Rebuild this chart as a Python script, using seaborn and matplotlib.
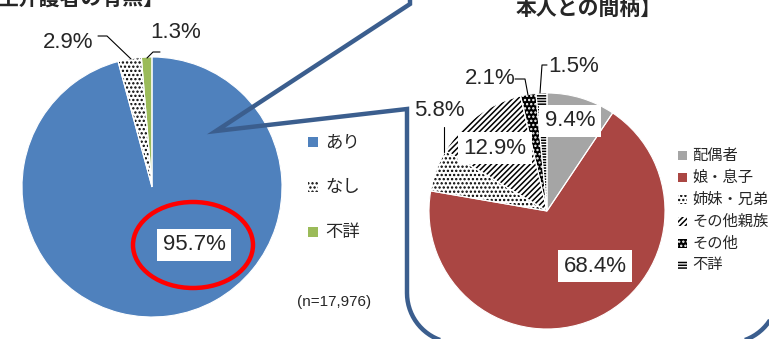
import numpy as np
import matplotlib
matplotlib.use("Agg")
import matplotlib.pyplot as plt
import seaborn as sns
from matplotlib.patches import Ellipse, Rectangle, PathPatch
from matplotlib.path import Path

# 主介護者の有無
care_labels = ["あり", "なし", "不詳"]
care_values = [95.7, 2.9, 1.3]
care_n = 17976

# 主介護者と本人との間柄
rel_labels = ["配偶者", "娘・息子", "姉妹・兄弟", "その他親族", "その他", "不詳"]
rel_values = [9.4, 68.4, 5.8, 12.9, 2.1, 1.5]

sns.set_theme(style="white")
plt.rcParams["font.family"] = ["Liberation Sans", "Noto Sans CJK JP"]
plt.rcParams["hatch.linewidth"] = 1.1
JP = ["Noto Sans CJK JP", "DejaVu Sans"]

W, H = 769, 339
fig = plt.figure(figsize=(W / 100, H / 100), dpi=100)
ax = fig.add_axes([0, 0, 1, 1])


def Y(y):
    return H - y


# wedge styles: face colour, hatch, hatch colour
care_styles = [
    ("#4F81BD", None, "#4F81BD"),
    ("white", "....", "black"),
    ("#9BBB59", None, "#9BBB59"),
]
rel_styles = [
    ("#A5A5A5", None, "#A5A5A5"),
    ("#AA4643", None, "#AA4643"),
    ("white", "....", "black"),
    ("white", "//////", "black"),
    ("black", "....", "white"),
    ("white", "------", "black"),
]


def draw_pie(values, styles, cx, cy, r):
    wedges, _ = ax.pie(values, center=(cx, Y(cy)), radius=r, startangle=90,
                       counterclock=False, wedgeprops=dict(linewidth=0))
    for w, (fc, hatch, hc) in zip(wedges, styles):
        w.set_facecolor(fc)
        w.set_edgecolor(hc)
        w.set_linewidth(0)
        w.set_hatch(hatch)
    ax.pie(values, center=(cx, Y(cy)), radius=r, startangle=90,
           counterclock=False,
           wedgeprops=dict(facecolor="none", edgecolor="white", linewidth=0.8))


def legend_box(x, yc, size, style):
    fc, hatch, hc = style
    ax.add_patch(Rectangle((x, Y(yc) - size / 2), size, size, facecolor=fc,
                           edgecolor=hc, linewidth=0, hatch=hatch))


def pct(v):
    return f"{v:.1f}%"


box = dict(boxstyle="square,pad=0.25", fc="white", ec="none")

# ---- left pie
draw_pie(care_values, care_styles, 152, 187, 130)
ax.text(194, Y(245), pct(care_values[0]), ha="center", va="center",
        fontsize=16, bbox=box, zorder=5)
ax.text(68, Y(43), pct(care_values[1]), ha="center", va="center", fontsize=16)
ax.text(176, Y(33), pct(care_values[2]), ha="center", va="center", fontsize=16)
ax.plot([98, 107, 131], [Y(36), Y(36), Y(59)], color="black", lw=0.8)
ax.plot([160, 153, 147], [Y(52), Y(52), Y(58)], color="black", lw=0.8)

ax.add_patch(Ellipse((193, Y(245)), 120, 86, facecolor="none",
                     edgecolor="#FF0000", linewidth=3.2, zorder=6))

for yc, lab, st in zip([142, 187, 232], care_labels, care_styles):
    legend_box(308, yc, 10, st)
    ax.text(325, Y(yc), lab, ha="left", va="center", fontsize=12.5, family=JP)

ax.text(334, Y(302), f"(n={care_n:,})", ha="center", va="center", fontsize=11)

# ---- right pie
draw_pie(rel_values, rel_styles, 547, 211, 118)
ax.text(570, Y(121), pct(rel_values[0]), ha="center", va="center",
        fontsize=16, bbox=box, zorder=5)
ax.text(595, Y(266), pct(rel_values[1]), ha="center", va="center",
        fontsize=16, bbox=box, zorder=5)
ax.text(439, Y(111), pct(rel_values[2]), ha="center", va="center", fontsize=16)
ax.text(495, Y(148), pct(rel_values[3]), ha="center", va="center",
        fontsize=16, bbox=box, zorder=5)
ax.text(490, Y(79), pct(rel_values[4]), ha="center", va="center", fontsize=16)
ax.text(574, Y(67), pct(rel_values[5]), ha="center", va="center", fontsize=16)
ax.plot([444, 444], [Y(127), Y(152)], color="black", lw=0.8)
ax.plot([515, 525, 528], [Y(79), Y(79), Y(95)], color="black", lw=0.8)
ax.plot([547, 542, 540], [Y(65), Y(65), Y(93)], color="black", lw=0.8)

for i, (lab, st) in enumerate(zip(rel_labels, rel_styles)):
    yc = 155 + 22 * i
    legend_box(678, yc, 9, st)
    ax.text(692, Y(yc), lab, ha="left", va="center", fontsize=11, family=JP)

# ---- titles
ax.text(-2, Y(6), "主介護者の有無】", ha="left", va="baseline", fontsize=15,
        family=JP, weight="bold")
ax.text(662, Y(15), "本人との間柄】", ha="right", va="baseline", fontsize=15,
        family=JP, weight="bold")

# ---- callout outline
R = 50
L, Rt, B = 407, 778, 343


def arc(cx, cy, a0, a1, n=20):
    t = np.radians(np.linspace(a0, a1, n))
    return list(zip(cx + R * np.cos(t), cy + R * np.sin(t)))


pts = [(410, -40), (410, 4), (216, 131), (L, 109), (L, B - R)]
pts += arc(L + R, B - R, 180, 90)
pts += [(Rt - R, B)]
pts += arc(Rt - R, B - R, 90, 0)
pts += [(Rt, -40)]
verts = [(x, Y(y)) for x, y in pts]
ax.add_patch(PathPatch(Path(verts), facecolor="none", edgecolor="#3B5E8E",
                       linewidth=3.2, zorder=7, capstyle="butt",
                       joinstyle="miter"))

ax.set_xlim(0, W)
ax.set_ylim(0, H)
ax.set_aspect("auto")
ax.axis("off")

fig.savefig("out.png", dpi=100)
